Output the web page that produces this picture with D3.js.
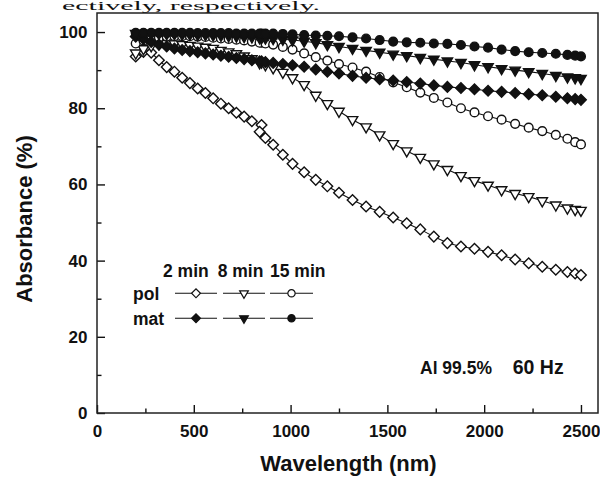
<!DOCTYPE html>
<html>
<head>
<meta charset="utf-8">
<script src="https://cdn.jsdelivr.net/npm/d3@7"></script>
<style>
  html, body { margin: 0; padding: 0; background: #fff; }
  svg { display: block; }
  text { font-family: "Liberation Sans", Arial, sans-serif; font-weight: bold; fill: #111; }
</style>
</head>
<body>
<svg id="chart" width="600" height="477"></svg>
<script>
// ---------------- data ----------------
const wavelength = [200,240,280,320,360,400,440,480,520,560,600,640,680,720,760,800,850,
  840,870,910,960,1010,1070,1130,1190,1250,1320,1390,1460,1530,1600,1670,1740,1810,1880,1950,2020,2090,2160,2230,2300,2370,2430,2470,2500];

const pol2 = [93.6,94.8,94.6,92.6,90.8,89.6,88.0,86.6,85.2,84.0,82.6,81.2,80.0,78.8,77.8,76.6,75.6,
  73.8,72.2,70.4,67.8,65.4,63.2,61.2,59.5,57.8,55.9,54.2,52.8,51.3,49.8,48.2,46.3,44.6,43.7,43.1,42.3,41.4,40.3,39.3,38.4,37.6,37.0,36.6,36.2];
const pol8 = [94.5,95.6,96.4,96.9,97.0,96.9,96.7,96.5,96.3,96.0,95.7,95.2,94.8,94.3,93.7,93.0,92.1,
  91.9,91.4,90.6,89.4,88.0,86.2,83.4,81.2,79.2,77.0,75.1,73.0,70.7,68.8,67.1,65.4,63.9,62.3,61.0,59.8,58.6,57.6,56.8,55.7,54.6,53.8,53.4,53.2];
const pol15 = [97.0,97.8,98.3,98.6,98.8,98.9,98.9,98.9,98.8,98.7,98.5,98.3,98.2,98.0,97.8,97.5,97.2,
  97.2,97.0,96.7,96.1,95.4,94.4,93.4,92.5,91.6,90.7,89.6,88.2,86.8,85.5,84.1,82.7,81.5,80.0,78.9,77.9,77.0,75.9,74.9,74.0,73.0,72.0,71.1,70.5];
const mat2 = [98.8,98.2,97.4,96.7,96.2,95.7,95.3,95.0,94.7,94.4,94.1,93.8,93.5,93.2,92.9,92.6,92.3,
  92.3,92.1,91.9,91.6,91.3,90.9,90.2,89.6,89.1,88.5,88.0,87.6,87.3,86.9,86.5,86.0,85.6,85.3,85.0,84.6,84.3,84.0,83.7,83.4,83.0,82.6,82.4,82.2];
const mat8 = [99.6,99.6,99.6,99.6,99.5,99.5,99.4,99.4,99.3,99.3,99.2,99.1,99.0,98.9,98.8,98.7,98.5,
  98.5,98.4,98.3,98.1,97.9,97.6,97.2,96.7,96.2,95.7,95.2,94.7,94.2,93.8,93.3,92.9,92.4,92.0,91.4,90.9,90.4,90.0,89.6,89.1,88.6,88.2,88.0,87.8];
const mat15 = [99.8,99.8,99.8,99.8,99.8,99.8,99.8,99.8,99.7,99.7,99.7,99.7,99.7,99.6,99.6,99.6,99.6,
  99.6,99.6,99.6,99.5,99.4,99.2,99.1,99.0,98.9,98.6,98.3,97.9,97.5,97.3,97.2,97.0,96.9,96.6,96.2,95.9,95.4,95.0,94.7,94.5,94.3,94.0,93.8,93.6];

const times = ["2 min", "8 min", "15 min"];
const surfaces = ["pol", "mat"];
const xTicks = [0, 500, 1000, 1500, 2000, 2500];
const xMinorTicks = [250, 750, 1250, 1750, 2250];
const yTicks = [0, 20, 40, 60, 80, 100];
const yMinorTicks = [10, 30, 50, 70, 90];
const xTitle = "Wavelength (nm)";
const yTitle = "Absorbance (%)";
const noteAlloy = "Al 99.5%";
const noteFreq = "60 Hz";
const captionFragment = "ectively, respectively.";

// ---------------- setup ----------------
const svg = d3.select("#chart");
const ink = "#111";
const L = 97, R = 598, T = 13, B = 413;
const x = d3.scaleLinear().domain([0, 2588]).range([L, R]);
const y = d3.scaleLinear().domain([0, 105]).range([B, T]);

// caption fragment from the source page (shrunk so it stays inside the picture)
svg.append("text").attr("x", 62).attr("y", 10)
  .attr("textLength", 258).attr("lengthAdjust", "spacingAndGlyphs")
  .style("font-family", "'Liberation Serif', 'Times New Roman', serif")
  .style("font-weight", "normal").style("font-size", "12.5px")
  .text(captionFragment);

// symbols
const shapes = {
  diamond: { type: d3.symbolSquare, size: 56, rot: 45 },
  triangle: { type: d3.symbolTriangle, size: 47, rot: 180 },
  circle: { type: d3.symbolCircle, size: 60, rot: 0 }
};
const shapeByTime = ["diamond", "triangle", "circle"];

const series = [
  { values: pol2, surf: 0, time: 0 },
  { values: pol8, surf: 0, time: 1 },
  { values: pol15, surf: 0, time: 2 },
  { values: mat2, surf: 1, time: 0 },
  { values: mat8, surf: 1, time: 1 },
  { values: mat15, surf: 1, time: 2 }
].map(s => ({ ...s, points: wavelength.map((w, i) => ({ w, v: s.values[i] })) }));

// ---------------- axes ----------------
const xAxis = d3.axisBottom(x).tickValues(xTicks).tickSize(-8).tickPadding(12).tickFormat(d3.format("d"));
const gx = svg.append("g").attr("transform", `translate(0,${B})`).call(xAxis);
const gxm = svg.append("g").attr("transform", `translate(0,${B})`)
  .call(d3.axisBottom(x).tickValues(xMinorTicks).tickSize(-4.5).tickFormat(""));
const yAxis = d3.axisLeft(y).tickValues(yTicks).tickSize(-8).tickPadding(9.5).tickFormat(d3.format("d"));
const gy = svg.append("g").attr("transform", `translate(${L},0)`).call(yAxis);
const gym = svg.append("g").attr("transform", `translate(${L},0)`)
  .call(d3.axisLeft(y).tickValues(yMinorTicks).tickSize(-4.5).tickFormat(""));
[gx, gxm, gy, gym].forEach(g => {
  g.select(".domain").remove();
  g.selectAll(".tick line").attr("stroke", ink).attr("stroke-width", 1.4);
  g.selectAll(".tick text").style("font-size", "17px").attr("fill", ink)
    .style("font-family", "'Liberation Sans', Arial, sans-serif").style("font-weight", "bold");
});

// frame
svg.append("rect").attr("x", L).attr("y", T).attr("width", R - L).attr("height", B - T)
  .attr("fill", "none").attr("stroke", "#222").attr("stroke-width", 1.5);

// titles
svg.append("text").attr("x", 348.5).attr("y", 471).attr("text-anchor", "middle")
  .style("font-size", "22px").text(xTitle);
svg.append("text").attr("transform", "translate(31.5,219) rotate(-90)").attr("text-anchor", "middle")
  .style("font-size", "22px").text(yTitle);

// ---------------- data ----------------
const line = d3.line().x(d => x(d.w)).y(d => y(d.v));
const gLines = svg.append("g");
series.forEach(s => {
  gLines.append("path").attr("d", line(s.points))
    .attr("fill", "none").attr("stroke", ink).attr("stroke-width", 1.1);
});
series.forEach(s => {
  const sh = shapes[shapeByTime[s.time]];
  const sym = d3.symbol().type(sh.type).size(sh.size);
  svg.append("g").selectAll("path").data(s.points).join("path")
    .attr("transform", d => `translate(${x(d.w)},${y(d.v)}) rotate(${sh.rot})`)
    .attr("d", sym)
    .attr("fill", s.surf === 0 ? "#fff" : ink)
    .attr("stroke", ink).attr("stroke-width", 1.4);
});

// ---------------- legend ----------------
const legHeadX = [163, 217.7, 270];
const legSegs = [[175, 217], [223, 265], [270, 313]];
const legRowY = [293.3, 318.3];
const legLabelY = [300, 325];
const lg = svg.append("g");
times.forEach((t, i) => lg.append("text").attr("x", legHeadX[i]).attr("y", 276.5).style("font-size", "17.5px").text(t));
surfaces.forEach((s, r) => {
  lg.append("text").attr("x", 133).attr("y", legLabelY[r]).style("font-size", "17.5px").text(s);
  legSegs.forEach((seg, i) => {
    lg.append("line").attr("x1", seg[0]).attr("x2", seg[1]).attr("y1", legRowY[r]).attr("y2", legRowY[r])
      .attr("stroke", ink).attr("stroke-width", 1.1);
    const sh = shapes[shapeByTime[i]];
    lg.append("path").attr("transform", `translate(${(seg[0] + seg[1]) / 2},${legRowY[r]}) rotate(${sh.rot})`)
      .attr("d", d3.symbol().type(sh.type).size(sh.size * 0.7)())
      .attr("fill", r === 0 ? "#fff" : ink).attr("stroke", ink).attr("stroke-width", 1.2);
  });
});

// annotation
svg.append("text").attr("x", 420).attr("y", 374).style("font-size", "17.5px").text(noteAlloy);
svg.append("text").attr("x", 512.7).attr("y", 374).style("font-size", "19.5px").text(noteFreq);
</script>
</body>
</html>
